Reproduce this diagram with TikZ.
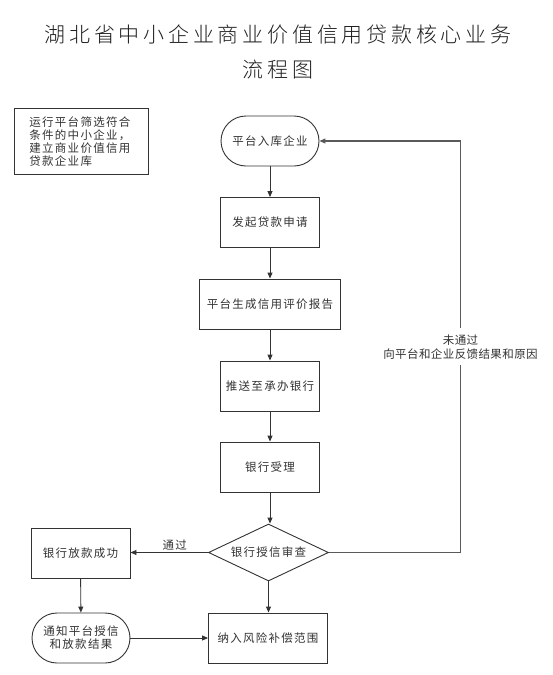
\documentclass[tikz,border=0pt]{standalone}
\usepackage{fontspec}
\setmainfont{Noto Sans CJK SC}
\newfontfamily\titlefont{Noto Sans CJK SC}[UprightFont={* Light},LetterSpace=18]
\newfontfamily\bodyfont{Noto Sans CJK SC}[LetterSpace=11]
\newfontfamily\labelfont{Noto Sans CJK SC}[LetterSpace=3.5]
\usetikzlibrary{arrows.meta,shapes.geometric}
\definecolor{ink}{HTML}{333333}
\definecolor{fbgray}{HTML}{5A5A5A}
\begin{document}
\begin{tikzpicture}[x=1pt,y=-1pt,
  txt/.style={font=\bodyfont\fontsize{11.5}{13}\selectfont,text=ink},
  box/.style={txt,draw=ink,line width=0.9pt,rectangle,minimum height=50pt,inner sep=0pt},
  term/.style={box,rounded corners=25pt},
  decision/.style={txt,draw=ink,line width=0.9pt,diamond,aspect=3,inner sep=0pt,minimum width=120pt,minimum height=57pt},
  arr/.style={draw=ink,line width=0.9pt,-{Triangle[length=6pt,width=5pt]}},
  fb/.style={draw=fbgray,line width=1.1pt,-{Triangle[length=6pt,width=5pt]}}]
\fill[white] (0,0) rectangle (553,675);
\useasboundingbox (0,0) rectangle (553,675);

\node[font=\titlefont\fontsize{21}{35}\selectfont,text=black!88,align=center] (title) at (278,51.5) {湖北省中小企业商业价值信用贷款核心业务\\流程图};

\node[txt,draw=ink,line width=0.9pt,anchor=north west,minimum width=134pt,minimum height=66pt,inner xsep=15pt,inner ysep=0pt,text width=104pt,align=left] (note) at (14,108) {运行平台筛选符合\\条件的中小企业，\\建立商业价值信用\\贷款企业库};

\node[term,minimum width=98pt] (n1) at (270,141) {平台入库企业};
\node[box,minimum width=99pt] (n2) at (270,222.5) {发起贷款申请};
\node[box,minimum width=141pt] (n3) at (270,304) {平台生成信用评价报告};
\node[box,minimum width=99pt] (n4) at (270,386) {推送至承办银行};
\node[box,minimum width=99pt] (n5) at (270,467) {银行受理};
\node[decision] (d) at (268.5,552.5) {银行授信审查};
\node[box,minimum width=99pt] (n6) at (80.5,553) {银行放款成功};
\node[term,minimum width=98pt,align=center] (n7) at (81,638) {通知平台授信\\和放款结果};
\node[box,minimum width=119pt] (n8) at (268,638) {纳入风险补偿范围};

\coordinate (fb1) at (460.5,552.5);
\coordinate (fb2) at (460.5,141);

\draw[arr] (n1) -- (n2);
\draw[arr] (n2) -- (n3);
\draw[arr] (n3) -- (n4);
\draw[arr] (n4) -- (n5);
\draw[arr] (n5.south) -- (n5.south |- d.north);
\draw[arr] (d.south) -- (d.south |- n8.north);
\draw[arr] (d.west) -- node[pos=0.43,above,inner sep=1.5pt,txt] (pass) {通过} (d.west -| n6.east);
\draw[arr] (n6) -- (n7);
\draw[arr] (n7) -- (n8);
\draw[fb] (d.east) -- (fb1) -- node[midway,fill=white,inner xsep=2pt,inner ysep=6pt,align=center,font=\labelfont\fontsize{11.5}{14}\selectfont,text=ink] (fail) {未通过\\向平台和企业反馈结果和原因} (fb2) -- (n1.east);
\end{tikzpicture}
\end{document}
